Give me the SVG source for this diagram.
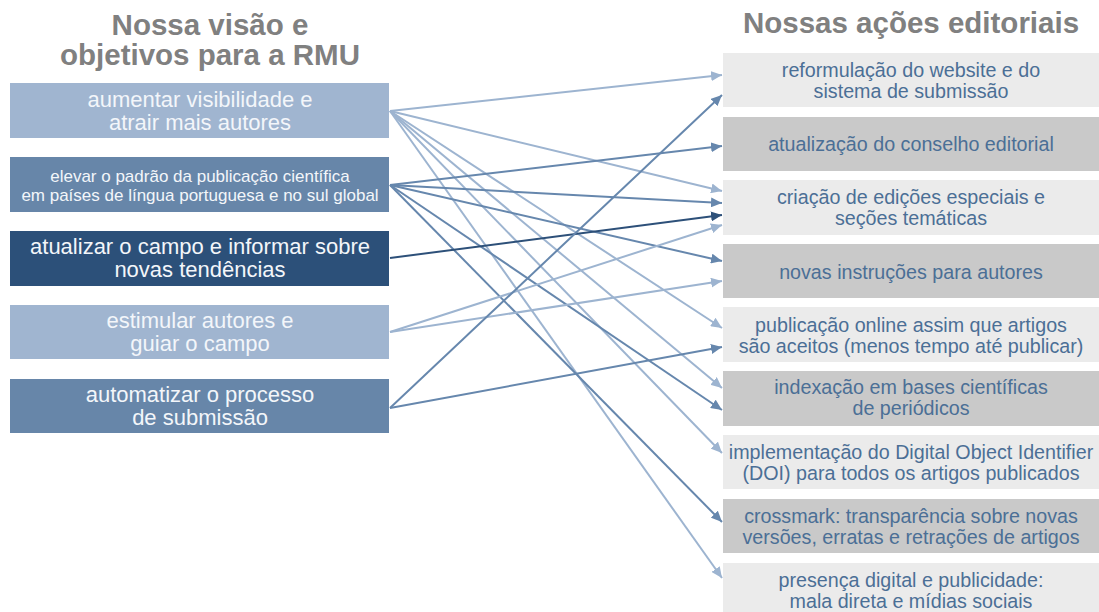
<svg xmlns="http://www.w3.org/2000/svg" width="1099" height="612" viewBox="0 0 1099 612">
<style>
.title{font-family:"Liberation Sans",Arial,sans-serif;font-weight:bold;font-size:29.5px;fill:#808080;text-anchor:middle}
.lt{font-family:"Liberation Sans",Arial,sans-serif;font-size:22px;text-anchor:middle;fill:#f3f6fa}
.lt.s{font-size:17px}
.rt{font-family:"Liberation Sans",Arial,sans-serif;font-size:19.7px;text-anchor:middle;fill:#4b6f96}
.c1{fill:#a0b5d0}.c2{fill:#6786a9}.c3{fill:#2c5079}
.r1{fill:#ebebeb}.r2{fill:#c9c9c9}
.e{fill:none;stroke-width:2}
.el{stroke:#9db4d0}.em{stroke:#6687ad}.ed{stroke:#2d5079}
</style>
<defs>
<marker id="ml" markerUnits="userSpaceOnUse" markerWidth="12" markerHeight="10" refX="11" refY="5" orient="auto"><path d="M0,0 L11,5 L0,10 z" fill="#9db4d0"/></marker>
<marker id="mm" markerUnits="userSpaceOnUse" markerWidth="12" markerHeight="10" refX="11" refY="5" orient="auto"><path d="M0,0 L11,5 L0,10 z" fill="#6687ad"/></marker>
<marker id="md" markerUnits="userSpaceOnUse" markerWidth="12" markerHeight="10" refX="11" refY="5" orient="auto"><path d="M0,0 L11,5 L0,10 z" fill="#2d5079"/></marker>
</defs>
<rect width="1099" height="612" fill="#ffffff"/>
<g id="titles">
<text class="title" x="210" y="35">Nossa visão e</text>
<text class="title" x="210" y="65">objetivos para a RMU</text>
<text class="title" x="911" y="33">Nossas ações editoriais</text>
</g>
<g id="goal1"><rect class="c1" x="10" y="83" width="379" height="55"/><text class="lt" x="200" y="107">aumentar visibilidade e</text><text class="lt" x="200" y="130">atrair mais autores</text></g>
<g id="goal2"><rect class="c2" x="10" y="157" width="379" height="55"/><text class="lt s" x="200" y="182">elevar o padrão da publicação científica</text><text class="lt s" x="200" y="201">em países de língua portuguesa e no sul global</text></g>
<g id="goal3"><rect class="c3" x="10" y="231" width="379" height="55"/><text class="lt" x="200" y="254">atualizar o campo e informar sobre</text><text class="lt" x="200" y="277">novas tendências</text></g>
<g id="goal4"><rect class="c1" x="10" y="305" width="379" height="54"/><text class="lt" x="200" y="328">estimular autores e</text><text class="lt" x="200" y="351">guiar o campo</text></g>
<g id="goal5"><rect class="c2" x="10" y="379" width="379" height="54"/><text class="lt" x="200" y="402">automatizar o processo</text><text class="lt" x="200" y="425">de submissão</text></g>
<g id="act1"><rect class="r1" x="723" y="53" width="376" height="54"/><text class="rt" x="911" y="77">reformulação do website e do</text><text class="rt" x="911" y="98">sistema de submissão</text></g>
<g id="act2"><rect class="r2" x="723" y="117" width="376" height="54"/><text class="rt" x="911" y="151">atualização do conselho editorial</text></g>
<g id="act3"><rect class="r1" x="723" y="180" width="376" height="55"/><text class="rt" x="911" y="204">criação de edições especiais e</text><text class="rt" x="911" y="225">seções temáticas</text></g>
<g id="act4"><rect class="r2" x="723" y="244" width="376" height="54"/><text class="rt" x="911" y="279">novas instruções para autores</text></g>
<g id="act5"><rect class="r1" x="723" y="307" width="376" height="55"/><text class="rt" x="911" y="332">publicação online assim que artigos</text><text class="rt" x="911" y="353">são aceitos (menos tempo até publicar)</text></g>
<g id="act6"><rect class="r2" x="723" y="371" width="376" height="55"/><text class="rt" x="911" y="394">indexação em bases científicas</text><text class="rt" x="911" y="415">de periódicos</text></g>
<g id="act7"><rect class="r1" x="723" y="435" width="376" height="54"/><text class="rt" x="911" y="459">implementação do Digital Object Identifier</text><text class="rt" x="911" y="480">(DOI) para todos os artigos publicados</text></g>
<g id="act8"><rect class="r2" x="723" y="499" width="376" height="54"/><text class="rt" x="911" y="523">crossmark: transparência sobre novas</text><text class="rt" x="911" y="544">versões, erratas e retrações de artigos</text></g>
<g id="act9"><rect class="r1" x="723" y="563" width="376" height="54"/><text class="rt" x="911" y="587">presença digital e publicidade:</text><text class="rt" x="911" y="608">mala direta e mídias sociais</text></g>
<g id="connectors">
<line class="e el" x1="390" y1="111" x2="722" y2="75" marker-end="url(#ml)"/>
<line class="e el" x1="390" y1="111" x2="722" y2="191" marker-end="url(#ml)"/>
<line class="e el" x1="390" y1="111" x2="722" y2="328" marker-end="url(#ml)"/>
<line class="e el" x1="390" y1="111" x2="722" y2="388" marker-end="url(#ml)"/>
<line class="e el" x1="390" y1="111" x2="722" y2="453" marker-end="url(#ml)"/>
<line class="e el" x1="390" y1="111" x2="722" y2="578" marker-end="url(#ml)"/>
<line class="e em" x1="390" y1="185" x2="722" y2="146" marker-end="url(#mm)"/>
<line class="e em" x1="390" y1="185" x2="722" y2="203" marker-end="url(#mm)"/>
<line class="e em" x1="390" y1="185" x2="722" y2="261" marker-end="url(#mm)"/>
<line class="e em" x1="390" y1="185" x2="722" y2="410" marker-end="url(#mm)"/>
<line class="e em" x1="390" y1="185" x2="722" y2="522" marker-end="url(#mm)"/>
<line class="e ed" x1="390" y1="258" x2="722" y2="215" marker-end="url(#md)"/>
<line class="e el" x1="390" y1="332" x2="722" y2="225" marker-end="url(#ml)"/>
<line class="e el" x1="390" y1="332" x2="722" y2="281" marker-end="url(#ml)"/>
<line class="e em" x1="390" y1="408" x2="722" y2="95" marker-end="url(#mm)"/>
<line class="e em" x1="390" y1="408" x2="722" y2="347" marker-end="url(#mm)"/>
</g>
</svg>
